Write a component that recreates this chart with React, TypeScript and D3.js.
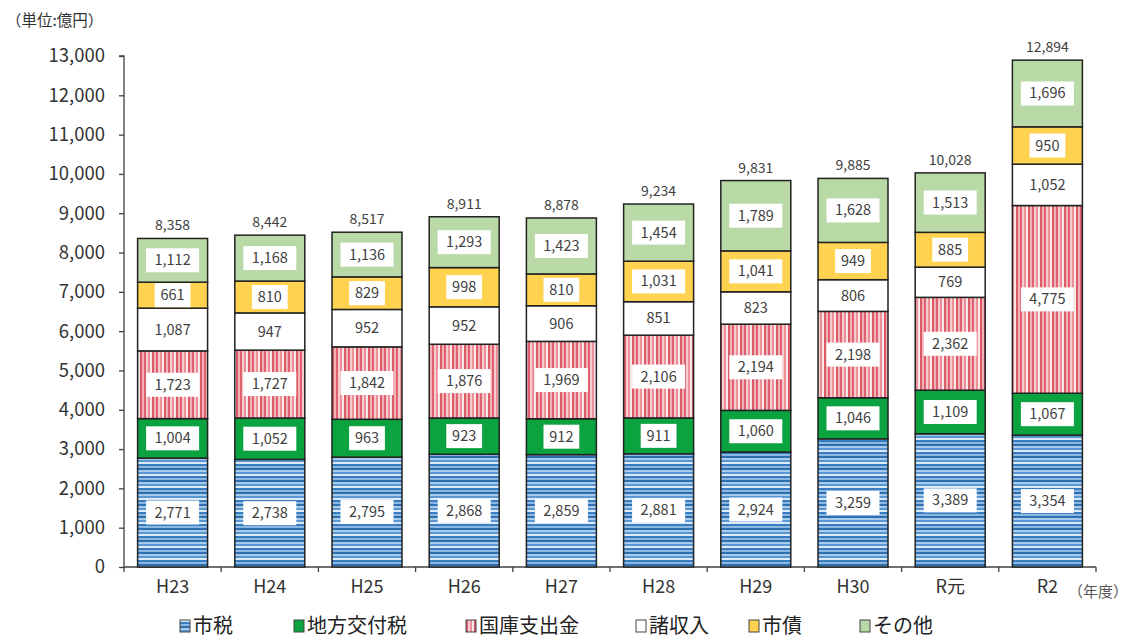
import { useEffect, useRef } from "react";
import * as d3 from "d3";

const years = ["H23", "H24", "H25", "H26", "H27", "H28", "H29", "H30", "R元", "R2"];
const seriesNames = ["市税", "地方交付税", "国庫支出金", "諸収入", "市債", "その他"];
const shizei = [2771, 2738, 2795, 2868, 2859, 2881, 2924, 3259, 3389, 3354];
const chihoKofuzei = [1004, 1052, 963, 923, 912, 911, 1060, 1046, 1109, 1067];
const kokkoShishutsukin = [1723, 1727, 1842, 1876, 1969, 2106, 2194, 2198, 2362, 4775];
const shoShunyu = [1087, 947, 952, 952, 906, 851, 823, 806, 769, 1052];
const shisai = [661, 810, 829, 998, 810, 1031, 1041, 949, 885, 950];
const sonota = [1112, 1168, 1136, 1293, 1423, 1454, 1789, 1628, 1513, 1696];
const totals = [8358, 8442, 8517, 8911, 8878, 9234, 9831, 9885, 10028, 12894];
const yTicks = d3.range(0, 13001, 1000);

const fills = ["url(#blueStripe)", "#0aa33f", "url(#redStripe)", "#ffffff", "#ffd24f", "#b9d9a6"];
const FONT = "'Noto Sans CJK JP', 'Noto Sans', sans-serif";

export default function App() {
  const svgRef = useRef<SVGSVGElement | null>(null);

  useEffect(() => {
    const width = 1131;
    const height = 644;
    const svg = d3.select(svgRef.current!).attr("width", width).attr("height", height);
    svg.selectAll("*").remove();

    const defs = svg.append("defs");
    // blue horizontal stripes
    const bp = defs.append("pattern").attr("id", "blueStripe").attr("patternUnits", "userSpaceOnUse")
      .attr("width", 8).attr("height", 12);
    const blues = ["#2f6fb0", "#a8cbea", "#5a96d2", "#dceaf7", "#3a7cc0", "#8ab8e2"];
    blues.forEach((c, i) => bp.append("rect").attr("x", 0).attr("y", i * 2).attr("width", 8).attr("height", 2).attr("fill", c));
    // red vertical stripes
    const rp = defs.append("pattern").attr("id", "redStripe").attr("patternUnits", "userSpaceOnUse")
      .attr("width", 12).attr("height", 8);
    const reds = ["#e0606e", "#f7ccd0", "#ec909a", "#fbe6e8", "#db5a68", "#f4b0b7"];
    reds.forEach((c, i) => rp.append("rect").attr("x", i * 2).attr("y", 0).attr("width", 2).attr("height", 8).attr("fill", c));

    const x0 = 124, x1 = 1096, yTop = 56, yBottom = 567;
    const x = d3.scaleBand<string>().domain(years).range([x0, x1]).paddingInner(0.28).paddingOuter(0.14);
    const y = d3.scaleLinear().domain([0, 13000]).range([yBottom, yTop]);

    const series = [shizei, chihoKofuzei, kokkoShishutsukin, shoShunyu, shisai, sonota];
    const table = years.map((yr, i) => {
      const row: any = { year: yr };
      seriesNames.forEach((s, j) => (row[s] = series[j][i]));
      return row;
    });
    const stacked = d3.stack<any>().keys(seriesNames)(table);

    // y axis
    const yAxis = svg.append("g").attr("transform", `translate(${x0},0)`)
      .call(d3.axisLeft(y).tickValues(yTicks).tickSize(5).tickPadding(14).tickFormat((d) => d3.format(",")(d as number)));
    yAxis.select(".domain").attr("stroke", "#404040").attr("stroke-width", 1.3).attr("d", `M-5,${yTop}H0V${yBottom}`);
    yAxis.selectAll(".tick line").attr("stroke", "#404040").attr("stroke-width", 1.3);
    yAxis.selectAll(".tick text").attr("font-family", FONT).attr("font-size", 18.5).attr("fill", "#333");

    // x axis
    const xAxisG = svg.append("g");
    xAxisG.append("line").attr("x1", x0).attr("x2", x1).attr("y1", yBottom).attr("y2", yBottom)
      .attr("stroke", "#404040").attr("stroke-width", 1.3);
    const step = x.step();
    d3.range(years.length + 1).forEach((i) => {
      const xx = x0 + i * step;
      xAxisG.append("line").attr("x1", xx).attr("x2", xx).attr("y1", yBottom).attr("y2", yBottom + 5)
        .attr("stroke", "#404040").attr("stroke-width", 1.3);
    });
    xAxisG.selectAll("text.xl").data(years).join("text").attr("class", "xl")
      .attr("x", (d) => x(d)! + x.bandwidth() / 2).attr("y", 593)
      .attr("text-anchor", "middle").attr("font-family", FONT).attr("font-size", 18).attr("fill", "#333")
      .text((d) => d);

    // bars
    stacked.forEach((layer, j) => {
      const g = svg.append("g");
      g.selectAll("rect").data(layer).join("rect")
        .attr("x", (d) => x(d.data.year)!)
        .attr("width", x.bandwidth())
        .attr("y", (d) => y(d[1]))
        .attr("height", (d) => y(d[0]) - y(d[1]))
        .attr("fill", fills[j])
        .attr("stroke", "#222")
        .attr("stroke-width", 1.5);
    });

    // labels
    stacked.forEach((layer) => {
      layer.forEach((d) => {
        const cx = x(d.data.year)! + x.bandwidth() / 2;
        const cy = (y(d[0]) + y(d[1])) / 2;
        const txt = d3.format(",")(d[1] - d[0]);
        const segH = y(d[0]) - y(d[1]);
        const bw = txt.length * 8.6 + 10;
        const bh = Math.min(24, segH - 2);
        svg.append("rect").attr("x", cx - bw / 2).attr("y", cy - bh / 2).attr("width", bw).attr("height", bh).attr("fill", "#fff");
        svg.append("text").attr("x", cx).attr("y", cy + 5).attr("text-anchor", "middle")
          .attr("font-family", FONT).attr("font-size", 14.5).attr("fill", "#404040").text(txt);
      });
    });

    // totals
    svg.selectAll("text.total").data(years).join("text").attr("class", "total")
      .attr("x", (d) => x(d)! + x.bandwidth() / 2).attr("y", (_d, i) => y(totals[i]) - 8)
      .attr("text-anchor", "middle").attr("font-family", FONT).attr("font-size", 14).attr("fill", "#404040")
      .text((_d, i) => d3.format(",")(totals[i]));

    // unit labels
    svg.append("text").attr("x", 6).attr("y", 26).attr("font-family", FONT).attr("font-size", 15.5).attr("fill", "#333").text("（単位:億円）");
    svg.append("text").attr("x", 1068).attr("y", 597).attr("font-family", FONT).attr("font-size", 15).attr("fill", "#555").text("（年度）");

    // legend
    const legendX = [180, 294, 466, 636, 749, 860];
    seriesNames.forEach((s, j) => {
      const g = svg.append("g").attr("transform", `translate(${legendX[j]},626)`);
      g.append("rect").attr("x", 0).attr("y", -6).attr("width", 10).attr("height", 12)
        .attr("fill", fills[j]).attr("stroke", "#444").attr("stroke-width", 1);
      g.append("text").attr("x", 13).attr("y", 7).attr("font-family", FONT).attr("font-size", 20).attr("fill", "#222").text(s);
    });
  }, []);

  return (
    <div style={{ margin: -8, height: 644, overflow: "hidden" }}>
      <svg ref={svgRef} style={{ display: "block" }} />
    </div>
  );
}
